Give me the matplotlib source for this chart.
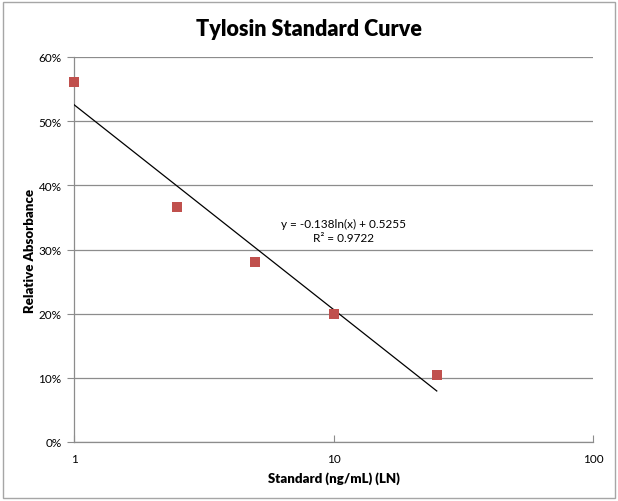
import numpy as np
import matplotlib
matplotlib.use("Agg")
import matplotlib.pyplot as plt
from matplotlib.ticker import PercentFormatter, FixedLocator, NullLocator, FixedFormatter
from matplotlib.patches import Rectangle

# data
standard = [1, 2.5, 5, 10, 25]
rel_absorbance = [0.561, 0.367, 0.281, 0.200, 0.104]
x_ticks = [1, 10, 100]
x_tick_labels = ["1", "10", "100"]
eq_text = "y = -0.138ln(x) + 0.5255\nR² = 0.9722"

plt.rcParams['font.family'] = ['Lato', 'DejaVu Sans']

fig = plt.figure(figsize=(6.18, 5.02), dpi=100)
ax = fig.add_axes([74/618, 59/502, 519/618, 385/502])

grid_col = '#8c8c8c'

# log trendline fitted to the points
slope, icpt = np.polyfit(np.log(standard), rel_absorbance, 1)
xs = np.linspace(standard[0], standard[-1], 200)
ax.plot(xs, slope*np.log(xs) + icpt, color='black', lw=0.9, zorder=3)

ax.scatter(standard, rel_absorbance, marker='s', s=52, color='#C0504D', zorder=4,
           linewidths=0, clip_on=False)

ax.set_xscale('log')
ax.set_xlim(1, 100)
ax.set_ylim(0, 0.6)
ax.xaxis.set_major_locator(FixedLocator(x_ticks))
ax.xaxis.set_major_formatter(FixedFormatter(x_tick_labels))
ax.xaxis.set_minor_locator(NullLocator())
ax.set_yticks(np.arange(0, 0.61, 0.1))
ax.yaxis.set_major_formatter(PercentFormatter(1.0, decimals=0))
ax.grid(axis='y', color=grid_col, lw=0.9)
ax.set_axisbelow(True)

for s in ['top', 'right']:
    ax.spines[s].set_visible(False)
for s in ['left', 'bottom']:
    ax.spines[s].set_color(grid_col)
    ax.spines[s].set_linewidth(0.9)

ax.tick_params(axis='x', direction='in', length=5, color=grid_col, labelsize=8.5, pad=8)
ax.tick_params(axis='y', direction='out', length=5, color=grid_col, labelsize=8.5, pad=4)

fig.text(0.5, 1 - 30/502, "Tylosin Standard Curve", ha='center', va='center',
         fontsize=15.5, fontweight='heavy')
ax.set_xlabel("Standard (ng/mL) (LN)", fontsize=9.5, fontweight='heavy', labelpad=5)
ax.set_ylabel("Relative Absorbance", fontsize=9.5, fontweight='heavy', labelpad=2)

ax.text(0.52, 0.55, eq_text, transform=ax.transAxes, ha='center', va='center',
        fontsize=8.5, linespacing=1.35)

# chart border
fig.patches.append(Rectangle((3/618, 3/502), 612/618, 496/502, transform=fig.transFigure,
                             fill=False, edgecolor='#a6a6a6', lw=1))

fig.savefig("out.png", dpi=100)
